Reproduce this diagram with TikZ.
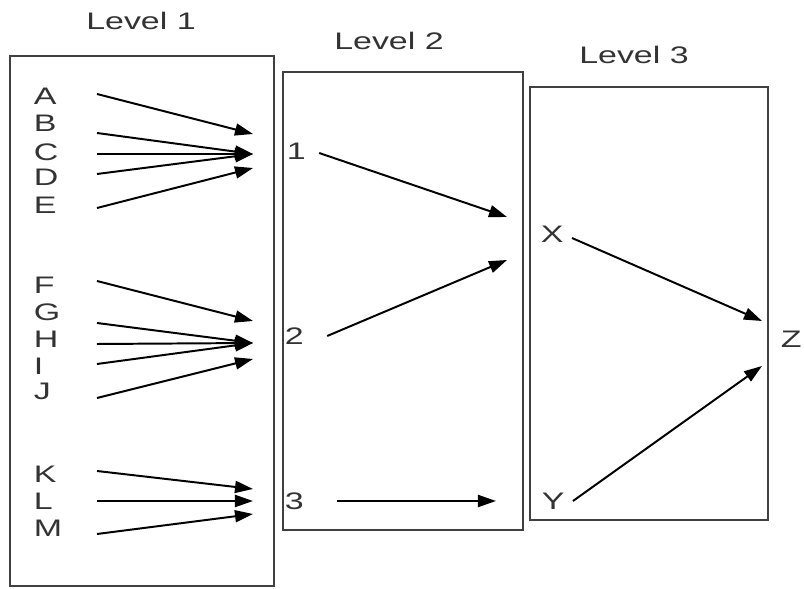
\documentclass[tikz,border=0pt]{standalone}
\usepackage{fontspec}
\setmainfont[FakeStretch=1.42]{Liberation Sans}
\usetikzlibrary{arrows.meta,calc}

\begin{document}
\begin{tikzpicture}[
            x = 0.025cm, y = -0.025cm, % one unit = one pixel
            > = {Triangle[length=0.45cm,width=0.3cm]}, % arrow head style
            line width = 1.4pt, % line style
            font = \fontsize{17}{19}\selectfont,
            text = black!80,
            lbl/.style = {anchor=west, inner sep=0pt, text width=#1, align=left},
            box/.style = {draw=black!75, line width=1.3pt}
        ]
\useasboundingbox (0,0) rectangle (804,589);

% the three levels
\draw[box] (10,56) rectangle (274,586);
\draw[box] (283,72) rectangle (523,530);
\draw[box] (530,87) rectangle (768,520);

\node (lev1) at (141,21) {Level 1};
\node (lev2) at (389,41) {Level 2};
\node (lev3) at (634,55) {Level 3};

% level 1
\foreach \n/\y in {A/96,B/123,C/152,D/177,E/205,F/285,G/312,H/339,I/366,J/391,K/474,L/501,M/528}
    \node[lbl=1.55cm] (\n) at (33,\y) {\n};

\coordinate (tA) at (253,134);
\coordinate (tBD) at (253,154);
\coordinate (tE) at (253,168);
\coordinate (tF) at (253,321);
\coordinate (tGI) at (253,343);
\coordinate (tJ) at (253,359);
\coordinate (tK) at (253,489);
\coordinate (tL) at (253,501);
\coordinate (tM) at (253,514);

\foreach \n/\dy/\t in {A/-2/tA,B/10/tBD,C/2/tBD,D/-3/tBD,E/3/tE,F/-4/tF,G/11/tGI,H/5/tGI,I/-2/tGI,J/7/tJ,K/-3/tK,L/0/tL,M/6/tM}
    \draw[->] ($(\n.east)+(0,\dy)$) -- (\t);

% level 2
\node[lbl=0.78cm] (n1) at (286,151) {1};
\node[lbl=1.03cm] (n2) at (284,336) {2};
\node[lbl=1.28cm] (n3) at (284,501) {3};

\coordinate (t1) at (507,217);
\coordinate (t2) at (507,260);
\coordinate (t3) at (496,501);

\draw[->] ($(n1.east)+(0,2)$) -- (t1);
\draw[->] (n2.east) -- (t2);
\draw[->] (n3.east) -- (t3);

% level 3
\node[lbl=0.75cm] (X) at (540,234) {X};
\node[lbl=0.75cm] (Y) at (541,501) {Y};
\node[anchor=east, inner xsep=1pt] (Z) at (804,339) {Z};

\coordinate (tX) at (762,321);
\coordinate (tY) at (762,366);

\draw[->] ($(X.east)+(0,4)$) -- (tX);
\draw[->] (Y.east) -- (tY);
\end{tikzpicture}
\end{document}
